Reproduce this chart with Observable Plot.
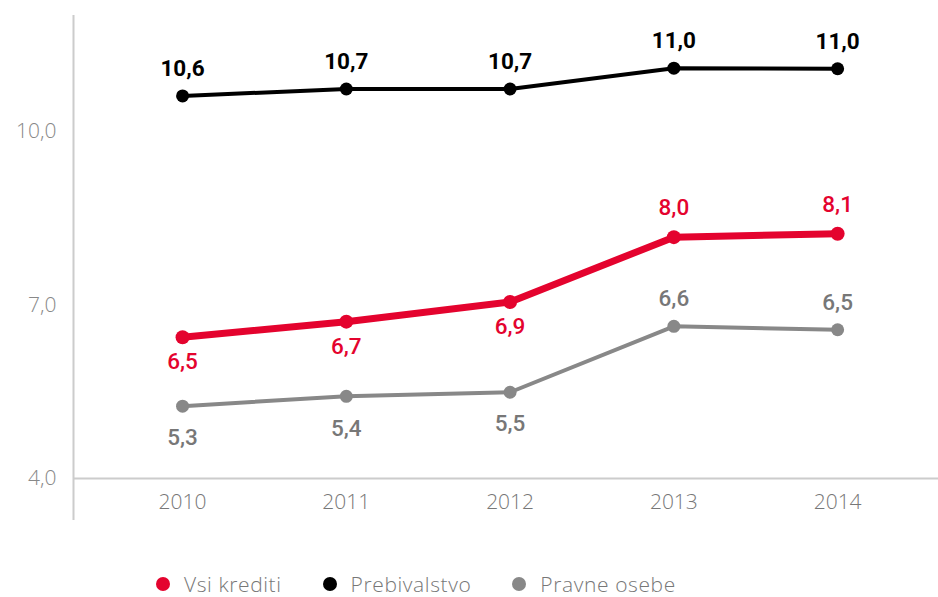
<!DOCTYPE html>
<html>
<head>
<meta charset="utf-8">
<script src="https://cdn.jsdelivr.net/npm/d3@7"></script>
<script src="https://cdn.jsdelivr.net/npm/@observablehq/plot@0.6"></script>
<style>
  html, body { margin: 0; padding: 0; background: #fff; }
  body { width: 938px; font-family: Roboto, "Liberation Sans", sans-serif; }
  #legend { display: flex; align-items: center; height: 24px; line-height: 24px; margin-top: 32px; padding-left: 156px; font-family: "Open Sans", sans-serif; font-weight: 300; font-size: 21px; letter-spacing: 0.6px; color: #777; }
  #legend .item { display: flex; align-items: center; height: 24px; line-height: 24px; margin-right: 41px; }
  #legend .dot { width: 14px; height: 14px; border-radius: 50%; margin-right: 14px; }
</style>
</head>
<body>
<div id="chart"></div>
<div id="legend"></div>
<script>
const years = [2010, 2011, 2012, 2013, 2014];
const vsiKrediti = [6.44, 6.71, 7.05, 8.17, 8.23];
const vsiKreditiLabels = ["6,5", "6,7", "6,9", "8,0", "8,1"];
const prebivalstvo = [10.61, 10.73, 10.73, 11.09, 11.08];
const prebivalstvoLabels = ["10,6", "10,7", "10,7", "11,0", "11,0"];
const pravneOsebe = [5.25, 5.42, 5.49, 6.63, 6.57];
const pravneOsebeLabels = ["5,3", "5,4", "5,5", "6,6", "6,5"];
const yTicks = [4, 7, 10];
const yTickLabels = ["4,0", "7,0", "10,0"];
const seriesNames = ["Vsi krediti", "Prebivalstvo", "Pravne osebe"];

const colors = {"Vsi krediti": "#e4032e", "Prebivalstvo": "#000000", "Pravne osebe": "#888888"};
const labelColors = {"Vsi krediti": "#e4032e", "Prebivalstvo": "#000000", "Pravne osebe": "#777777"};
const widths = {"Vsi krediti": 7, "Prebivalstvo": 4, "Pravne osebe": 4};

const valuesBySeries = [vsiKrediti, prebivalstvo, pravneOsebe];
const labelsBySeries = [vsiKreditiLabels, prebivalstvoLabels, pravneOsebeLabels];
const rows = [];
seriesNames.forEach((s, si) => {
  years.forEach((yr, i) => rows.push({series: s, year: yr, value: valuesBySeries[si][i], label: labelsBySeries[si][i], idx: i}));
});

// label placement: black above; red/gray below for first three years, above after
const above = d => d.series === "Prebivalstvo" || d.idx >= 3;

const xDomain = [2009.334, 2014.616];
const axisFont = "'Open Sans', Roboto, sans-serif";
const labelFont = "Roboto, 'Liberation Sans', sans-serif";

const marks = [
  Plot.ruleY([4], {stroke: "#cccccc", strokeWidth: 2}),
  Plot.ruleX([xDomain[0]], {stroke: "#cccccc", strokeWidth: 2, insetBottom: -42}),
  Plot.axisY({ticks: yTicks, tickFormat: d => yTickLabels[yTicks.indexOf(d)], tickSize: 0, tickPadding: 17, fontSize: 21, fontWeight: 300, fill: "#888", label: null, fontFamily: axisFont}),
  Plot.axisX({ticks: years, tickFormat: d => String(d), tickSize: 0, tickPadding: 16, fontSize: 21, fontWeight: 300, fill: "#777", label: null, fontFamily: axisFont}),
];
seriesNames.forEach(s => {
  const data = rows.filter(d => d.series === s);
  marks.push(Plot.line(data, {x: "year", y: "value", stroke: colors[s], strokeWidth: widths[s], curve: "linear"}));
  marks.push(Plot.dot(data, {x: "year", y: "value", fill: colors[s], r: s === "Vsi krediti" ? 7 : 6.5}));
  marks.push(Plot.text(data.filter(above), {x: "year", y: "value", text: "label", fill: labelColors[s], dy: s === "Prebivalstvo" ? -27 : (s === "Vsi krediti" ? -29 : -27), fontSize: 22.5, fontWeight: s === "Prebivalstvo" ? 700 : 500, fontFamily: labelFont}));
  marks.push(Plot.text(data.filter(d => !above(d)), {x: "year", y: "value", text: "label", fill: labelColors[s], dy: s === "Vsi krediti" ? 25 : 32, fontSize: 22.5, fontWeight: 500, fontFamily: labelFont}));
});

const chart = Plot.plot({
  width: 938,
  height: 540,
  marginLeft: 73,
  marginRight: 0,
  marginTop: 15,
  marginBottom: 62,
  style: {fontFamily: labelFont, background: "#fff", overflow: "visible"},
  x: {type: "linear", domain: xDomain},
  y: {domain: [4, 12]},
  marks
});
document.getElementById("chart").appendChild(chart);

const legend = document.getElementById("legend");
seriesNames.forEach(s => {
  const item = document.createElement("div");
  item.className = "item";
  const dot = document.createElement("span");
  dot.className = "dot";
  dot.style.background = colors[s];
  item.appendChild(dot);
  item.appendChild(document.createTextNode(s));
  legend.appendChild(item);
});
</script>
</body>
</html>
